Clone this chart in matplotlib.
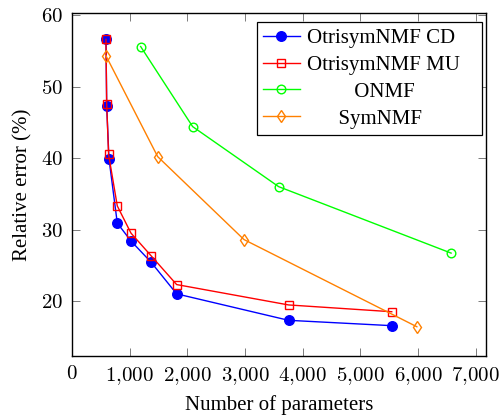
import matplotlib
matplotlib.use("Agg")
import matplotlib.pyplot as plt
from matplotlib.ticker import FuncFormatter

# Numero de parametros y error relativo (%) de cada metodo
cd_params = [591, 603, 643, 787, 1024, 1376, 1816, 3757, 5546]
cd_error = [56.6, 47.3, 39.9, 30.9, 28.4, 25.4, 21.0, 17.3, 16.55]

mu_params = [591, 603, 636, 787, 1024, 1376, 1816, 3757, 5546]
mu_error = [56.6, 47.6, 40.5, 33.3, 29.5, 26.3, 22.3, 19.45, 18.5]

onmf_params = [1192, 2093, 3584, 6575]
onmf_error = [55.6, 44.4, 36.0, 26.7]

sym_params = [591, 1487, 2983, 5981]
sym_error = [54.3, 40.2, 28.6, 16.4]

names = ["OtrisymNMF CD", "OtrisymNMF MU", "ONMF", "SymNMF"]

x_ticks = [0, 1000, 2000, 3000, 4000, 5000, 6000, 7000]
y_ticks = [20, 30, 40, 50, 60]

plt.rcParams["font.family"] = ["Liberation Serif", "DejaVu Serif"]
plt.rcParams["mathtext.fontset"] = "cm"

fig = plt.figure(figsize=(5, 4.15), dpi=100)
ax = fig.add_axes([0.1438, 0.1429, 0.8282, 0.8251])

# Etiquetas centradas en la leyenda (como en pgfplots) con espacios
etiquetas = [names[0] + "   ", names[1] + "   ",
             " " * 9 + names[2], " " * 6 + names[3]]

ax.plot(cd_params, cd_error, color="blue", lw=1.0, marker="o",
        markersize=6.9, markerfacecolor="blue", markeredgecolor="blue",
        label=etiquetas[0])
ax.plot(mu_params, mu_error, color="red", lw=1.0, marker="s",
        markersize=6.2, markerfacecolor="none", markeredgecolor="red",
        markeredgewidth=1.0, label=etiquetas[1])
ax.plot(onmf_params, onmf_error, color="#00ff00", lw=1.0, marker="o",
        markersize=6.2, markerfacecolor="none", markeredgecolor="#00ff00",
        markeredgewidth=1.0, label=etiquetas[2])
ax.plot(sym_params, sym_error, color="#ff8000", lw=1.0, marker="d",
        markersize=6.5, markerfacecolor="none", markeredgecolor="#ff8000",
        markeredgewidth=1.0, label=etiquetas[3])

ax.set_xlim(0, 7180)
ax.set_ylim(12.35, 60.25)
ax.set_xticks(x_ticks)
ax.set_yticks(y_ticks)
ax.xaxis.set_major_formatter(
    FuncFormatter(lambda v, p: "$" + f"{v:,.0f}".replace(",", "{,}") + "$"))
ax.yaxis.set_major_formatter(FuncFormatter(lambda v, p: f"${v:.0f}$"))

ax.tick_params(direction="in", length=6, width=0.6, color="#666666",
               top=True, right=True, labelsize=15, pad=6.5)
for s in ax.spines.values():
    s.set_linewidth(1.0)

ax.set_xlabel("Number of parameters", fontsize=15, labelpad=6)
ax.set_ylabel("Relative error (%)", fontsize=15, labelpad=6)

leg = ax.legend(loc="upper right", bbox_to_anchor=(0.990, 0.974),
                borderaxespad=0, fontsize=15, fancybox=False,
                edgecolor="black", framealpha=1, handlelength=1.75,
                handletextpad=0.35, borderpad=0.3, labelspacing=0.35)
leg.get_frame().set_linewidth(0.9)

fig.savefig("out.png", dpi=100)
